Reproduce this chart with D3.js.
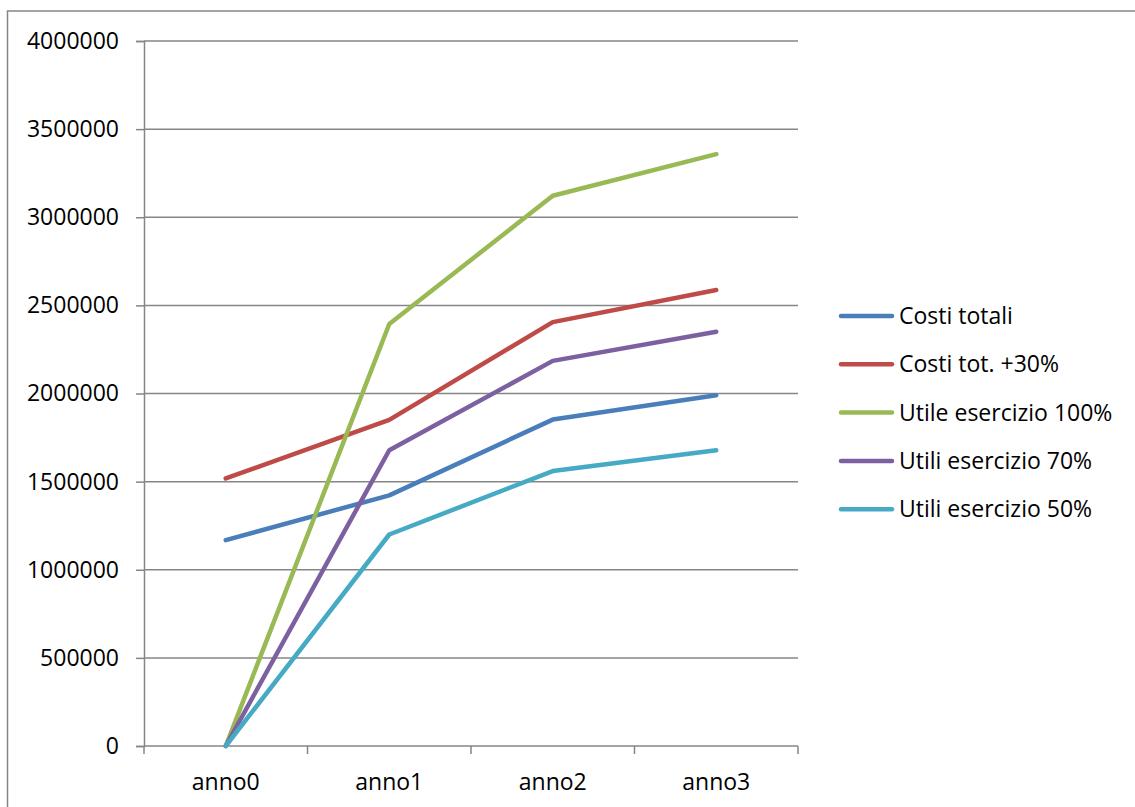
<!DOCTYPE html>
<html>
<head>
<meta charset="utf-8">
<script src="https://cdn.jsdelivr.net/npm/d3@7"></script>
<style>
  html, body { margin: 0; padding: 0; background: #fff; }
  svg { display: block; }
  text { font-family: "Open Sans", "Noto Sans", sans-serif; fill: #000; }
</style>
</head>
<body>
<svg id="chart" width="1135" height="807"></svg>
<script>
// Categories and series
const years = ["anno0", "anno1", "anno2", "anno3"];
const costiTotali = [1168000, 1422000, 1852000, 1990000];
const costiTot30 = [1518000, 1850000, 2405000, 2587000];
const utile100 = [0, 2394000, 3122000, 3358000];
const utili70 = [0, 1678000, 2185000, 2350000];
const utili50 = [0, 1200000, 1560000, 1678000];
const seriesNames = ["Costi totali", "Costi tot. +30%", "Utile esercizio 100%", "Utili esercizio 70%", "Utili esercizio 50%"];
const seriesColors = ["#4a7ebb", "#be4b48", "#98b954", "#7d60a0", "#46aac5"];
const yTicks = [0, 500000, 1000000, 1500000, 2000000, 2500000, 3000000, 3500000, 4000000];

const series = [costiTotali, costiTot30, utile100, utili70, utili50].map((vals, i) => ({
  name: seriesNames[i], color: seriesColors[i], values: vals
}));

const svg = d3.select("#chart");
const plot = { left: 144, right: 798, top: 41, bottom: 746 };
const fontSize = 23;

// Outer chart frame
svg.append("rect")
  .attr("x", 7.5).attr("y", 11)
  .attr("width", 1135).attr("height", 807)
  .attr("fill", "none").attr("stroke", "#868686").attr("stroke-width", 1.5);

const x = d3.scaleBand().domain(years).range([plot.left, plot.right]);
const y = d3.scaleLinear().domain([0, 4000000]).range([plot.bottom, plot.top]);

// Horizontal gridlines
svg.append("g").selectAll("line").data(yTicks.filter(d => d > 0)).join("line")
  .attr("x1", plot.left).attr("x2", plot.right)
  .attr("y1", d => y(d)).attr("y2", d => y(d))
  .attr("stroke", "#868686").attr("stroke-width", 1.5);

// Y axis
const yAxis = svg.append("g")
  .attr("transform", `translate(${plot.left},0)`)
  .call(d3.axisLeft(y).tickValues(yTicks).tickFormat(d3.format("d")).tickSize(8).tickPadding(17));
yAxis.select(".domain").attr("stroke", "#868686").attr("stroke-width", 1.5);
yAxis.selectAll(".tick line").attr("stroke", "#868686").attr("stroke-width", 1.5);
yAxis.selectAll(".tick text").attr("font-size", fontSize).attr("fill", "#000")
  .attr("font-family", "'Open Sans', sans-serif");

// X axis with ticks at category boundaries
const xAxisG = svg.append("g").attr("transform", `translate(0,${plot.bottom})`);
xAxisG.append("line")
  .attr("x1", plot.left).attr("x2", plot.right)
  .attr("stroke", "#868686").attr("stroke-width", 1.5);
const boundaries = years.map(d => x(d)).concat([x(years[years.length - 1]) + x.bandwidth()]);
xAxisG.selectAll(".xt").data(boundaries).join("line")
  .attr("x1", d => d).attr("x2", d => d)
  .attr("y1", 0).attr("y2", 8)
  .attr("stroke", "#868686").attr("stroke-width", 1.5);
xAxisG.selectAll(".xl").data(years).join("text")
  .attr("x", d => x(d) + x.bandwidth() / 2)
  .attr("y", 44)
  .attr("text-anchor", "middle")
  .attr("font-size", fontSize)
  .text(d => d);

// Series lines
const line = d3.line()
  .x((d, i) => x(years[i]) + x.bandwidth() / 2)
  .y(d => y(d));

svg.append("g").selectAll("path").data(series).join("path")
  .attr("d", d => line(d.values))
  .attr("fill", "none")
  .attr("stroke", d => d.color)
  .attr("stroke-width", 4.5)
  .attr("stroke-linejoin", "round")
  .attr("stroke-linecap", "round");

// Legend
const legend = svg.append("g").attr("transform", "translate(840,316)");
const item = legend.selectAll("g").data(series).join("g")
  .attr("transform", (d, i) => `translate(0,${i * 48.3})`);
item.append("line")
  .attr("x1", 1).attr("x2", 52)
  .attr("stroke", d => d.color)
  .attr("stroke-width", 4.5)
  .attr("stroke-linecap", "round");
item.append("text")
  .attr("x", 59).attr("y", 8)
  .attr("font-size", fontSize)
  .text(d => d.name);
</script>
</body>
</html>
